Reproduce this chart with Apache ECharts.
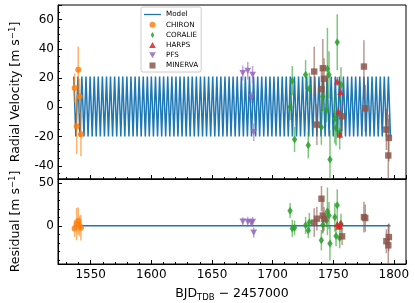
<!DOCTYPE html>
<html><head><meta charset="utf-8">
<script src="https://cdn.jsdelivr.net/npm/echarts@6/dist/echarts.min.js"></script>
<style>html,body{margin:0;padding:0;background:#fff}#c{width:415px;height:303px}</style>
</head><body><div id="c"></div>
<script>
// ---- Model (turning points of the Keplerian model curve) ----
const modelT = [1536.0,1537.7,1539.4,1541.1,1542.7,1544.4,1546.1,1547.8,1549.5,1551.2,
1552.9,1554.5,1556.2,1557.9,1559.6,1561.3,1563.0,1564.6,1566.3,1568.0,
1569.7,1571.4,1573.1,1574.8,1576.4,1578.1,1579.8,1581.5,1583.2,1584.9,
1586.6,1588.2,1589.9,1591.6,1593.3,1595.0,1596.7,1598.3,1600.0,1601.7,
1603.4,1605.1,1606.8,1608.5,1610.1,1611.8,1613.5,1615.2,1616.9,1618.6,
1620.3,1621.9,1623.6,1625.3,1627.0,1628.7,1630.4,1632.0,1633.7,1635.4,
1637.1,1638.8,1640.5,1642.2,1643.8,1645.5,1647.2,1648.9,1650.6,1652.3,
1654.0,1655.6,1657.3,1659.0,1660.7,1662.4,1664.1,1665.7,1667.4,1669.1,
1670.8,1672.5,1674.2,1675.9,1677.5,1679.2,1680.9,1682.6,1684.3,1686.0,
1687.7,1689.3,1691.0,1692.7,1694.4,1696.1,1697.8,1699.4,1701.1,1702.8,
1704.5,1706.2,1707.9,1709.6,1711.2,1712.9,1714.6,1716.3,1718.0,1719.7,
1721.4,1723.0,1724.7,1726.4,1728.1,1729.8,1731.5,1733.1,1734.8,1736.5,
1738.2,1739.9,1741.6,1743.3,1744.9,1746.6,1748.3,1750.0,1751.7,1753.4,
1755.1,1756.7,1758.4,1760.1,1761.8,1763.5,1765.2,1766.8,1768.5,1770.2,
1771.9,1773.6,1775.3,1777.0,1778.6,1780.3,1782.0,1783.7,1785.4,1787.1,
1788.8,1790.4,1792.1,1793.8,1795.5,1797.2];
const modelRV = [21,-20,21,-20,21,-20,21,-20,21,-20,21,-20,21,-20,21,-20,21,-20,21,-20,
21,-20,21,-20,21,-20,21,-20,21,-20,21,-20,21,-20,21,-20,21,-20,21,-20,
21,-20,21,-20,21,-20,21,-20,21,-20,21,-20,21,-20,21,-20,21,-20,21,-20,
21,-20,21,-20,21,-20,21,-20,21,-20,21,-20,21,-20,21,-20,21,-20,21,-20,
21,-20,21,-20,21,-20,21,-20,21,-20,21,-20,21,-20,21,-20,21,-20,21,-20,
21,-20,21,-20,21,-20,21,-20,21,-20,21,-20,21,-20,21,-20,21,-20,21,-20,
21,-20,21,-20,21,-20,21,-20,21,-20,21,-20,21,-20,21,-20,21,-20,21,-20,
21,-20,21,-20,21,-20,21,-20,21,-20,21,-20,21,-20,21,-20];
const residLineT = [1536.0, 1797.2];
const residLineV = [0, 0];

// ---- CHIRON ----
const chironT   = [1536.7, 1538.4, 1539.7, 1540.8, 1541.9];
const chironRV  = [13.2, -13.0, 25.7, 7.5, -18.4];
const chironErr = [10, 19, 16, 12, 15];
const chironRes = [-3.1, 2.0, 5.6, 0.0, -2.3];

// ---- CORALIE ----
const coralieT   = [1714.4, 1716.2, 1718.1, 1727.2, 1729.4, 1730.3, 1740.2, 1741.4, 1744.4, 1745.2, 1746.5, 1747.3, 1751.3, 1752.3, 1753.3, 1755.3, 1756.4];
const coralieRV  = [0.3, 18.2, -22.0, 22.3, -25.9, 12.7, -13.6, 7.5, -2.1, 26.4, 22.3, -35.7, -7.7, -14.2, 44.6, -16.8, 15.5];
const coralieErr = [9, 10, 8.5, 10, 9, 11, 12, 10, 8, 28, 16, 20, 17, 12, 19, 12, 12];
const coralieRes = [17.7, -3.1, -2.3, 0.5, -5.5, 4.0, -17.0, 1.0, 6.3, 17.0, 12.0, -21.0, 10.0, -12.0, 24.0, -14.5, 2.0];

// ---- HARPS ----
const harpsT   = [1753.3, 1754.3, 1755.4, 1756.0];
const harpsRV  = [17.7, -2.7, -18.6, 10.5];
const harpsErr = [3, 3, 3, 3];
const harpsRes = [2.0, -1.0, 0.0, 3.0];

// ---- PFS ----
const pfsT   = [1675.4, 1679.5, 1682.4, 1683.5, 1684.4];
const pfsRV  = [23.4, 25.0, 6.8, 22.3, -17.0];
const pfsErr = [5, 6, 4, 6, 6];
const pfsRes = [5.0, 4.5, 3.5, 4.5, -8.0];

// ---- MINERVA ----
const minervaT   = [1734.3, 1736.5, 1740.3, 1741.4, 1742.4, 1757.3, 1775.3, 1776.4, 1793.8, 1795.4, 1795.9];
const minervaRV  = [24.5, -11.8, 12.5, 26.8, 19.6, -6.1, 27.9, -0.7, -15.2, -32.9, -20.9];
const minervaErr = [17, 14, 15, 20, 14, 10, 18, 16, 14, 25, 16];
const minervaRes = [3.7, 8.3, 31.8, 12.0, 8.0, -12.5, 10.2, 9.0, -18.2, -23.0, -13.3];

// ---- axis ticks ----
const xTicks = [1550, 1600, 1650, 1700, 1750, 1800];
const rvTicks = [-40, -20, 0, 20, 40, 60];
const resTicks = [0, 50];
</script>
<script>
const FONT = 'DejaVu Sans';
const C = {model:'#1f77b4', chiron:'#ff7f0e', coralie:'#2ca02c', harps:'#d62728', pfs:'#9467bd', minerva:'#8c564b'};
const DIAMOND = 'path://M3,0 L6,5 L3,10 L0,5 Z';
const TRI_DOWN = 'path://M0,0 L10,0 L5,9 Z';
const TRI_UP = 'path://M5,0 L10,9 L0,9 Z';
const SQUARE = 'path://M0,0 L10,0 L10,10 L0,10 Z';
const instruments = [
  {name:'CHIRON', t:chironT, rv:chironRV, err:chironErr, res:chironRes, color:C.chiron, symbol:'circle', size:6, icon:'circle'},
  {name:'CORALIE', t:coralieT, rv:coralieRV, err:coralieErr, res:coralieRes, color:C.coralie, symbol:DIAMOND, size:[5.4,8], icon:DIAMOND},
  {name:'HARPS', t:harpsT, rv:harpsRV, err:harpsErr, res:harpsRes, color:C.harps, symbol:TRI_UP, size:[6.8,6.2], icon:TRI_UP},
  {name:'PFS', t:pfsT, rv:pfsRV, err:pfsErr, res:pfsRes, color:C.pfs, symbol:TRI_DOWN, size:[6.8,6.2], icon:TRI_DOWN},
  {name:'MINERVA', t:minervaT, rv:minervaRV, err:minervaErr, res:minervaRes, color:C.minerva, symbol:SQUARE, size:6.4, icon:SQUARE}
];

function errSeries(inst, vals, gi) {
  return {
    type:'custom', name: inst.name + '_err' + gi, xAxisIndex: gi, yAxisIndex: gi, clip: true, silent: true, z: 2,
    data: inst.t.map((x,i)=>[x, vals[i]-inst.err[i], vals[i]+inst.err[i]]),
    encode: {x:0, y:[1,2]},
    renderItem: (p, api) => {
      const a = api.coord([api.value(0), api.value(1)]);
      const b = api.coord([api.value(0), api.value(2)]);
      return {type:'line', shape:{x1:a[0], y1:a[1], x2:b[0], y2:b[1]}, style:{stroke: inst.color, lineWidth:1.5, opacity:0.6}};
    }
  };
}
function ptSeries(inst, vals, gi) {
  return {
    type:'scatter', name: inst.name, xAxisIndex: gi, yAxisIndex: gi, z: 3, silent: true,
    symbol: inst.symbol, symbolSize: inst.size,
    itemStyle: {color: inst.color, opacity: 0.85},
    data: inst.t.map((x,i)=>[x, vals[i]])
  };
}

const series = [
  {type:'line', name:'Model', xAxisIndex:0, yAxisIndex:0, symbol:'none', silent:true, z:1,
   lineStyle:{color:C.model, width:1.5}, itemStyle:{color:C.model},
   data: modelT.map((x,i)=>[x, modelRV[i]])},
  {type:'line', name:'ResidZero', xAxisIndex:1, yAxisIndex:1, symbol:'none', silent:true, z:1,
   lineStyle:{color:C.model, width:1.4}, itemStyle:{color:C.model},
   data: residLineT.map((x,i)=>[x, residLineV[i]])}
];
instruments.forEach(inst => {
  series.push(ptSeries(inst, inst.rv, 0));
  series.push(errSeries(inst, inst.rv, 0));
  series.push(ptSeries(inst, inst.res, 1));
  series.push(errSeries(inst, inst.res, 1));
});

const axisLineDef = {show:true, onZero:false, lineStyle:{color:'#000', width:1}};
const axisTickDef = {show:true, inside:true, length:4, lineStyle:{color:'#000', width:1}};
function xAxisDef(gi, showLabels) {
  const ax = {
    type:'value', gridIndex: gi, min:1523, max:1810, splitNumber:5,
    axisLine: axisLineDef, axisTick: axisTickDef, splitLine:{show:false},
    axisLabel:{show: showLabels, fontFamily:FONT, fontSize:12, color:'#000', margin:5,
      showMinLabel:false, showMaxLabel:false,
      formatter: v => xTicks.indexOf(v) >= 0 ? String(v) : ''},
    minorTick:{show:true, splitNumber:5, length:2, lineStyle:{color:'#000', width:1}}
  };
  if (showLabels) {
    ax.name = '{a|BJD}{s|TDB}{a| − 2457000}';
    ax.nameLocation = 'middle';
    ax.nameGap = 22;
    ax.nameTextStyle = {rich:{a:{fontFamily:FONT, fontSize:12.5, color:'#000', lineHeight:16},
      s:{fontFamily:FONT, fontSize:8.5, color:'#000', verticalAlign:'bottom', lineHeight:16}}};
  }
  return ax;
}
function yAxisDef(gi, min, max, split, ticks, title, minorSplit) {
  return {
    type:'value', gridIndex:gi, min:min, max:max, splitNumber:split,
    axisLine: axisLineDef, axisTick: axisTickDef, splitLine:{show:false},
    axisLabel:{fontFamily:FONT, fontSize:12, color:'#000', margin:4, showMinLabel:false, showMaxLabel:false,
      formatter: v => ticks.indexOf(v) >= 0 ? String(v) : ''},
    minorTick:{show:true, splitNumber:minorSplit, length:2, lineStyle:{color:'#000', width:1}},
    name:'{a|' + title + ' [m s}{u|−1}{a|]}', nameLocation:'middle', nameGap:34, nameRotate:90,
    nameTextStyle:{rich:{a:{fontFamily:FONT, fontSize:12.5, color:'#000', lineHeight:16},
      u:{fontFamily:FONT, fontSize:8.5, color:'#000', verticalAlign:'top', lineHeight:16}}}
  };
}

const legendData = [{name:'Model', icon:'path://M0,0 M0,5.5 M0,2.1 L17,2.1 L17,3.4 L0,3.4 Z'}]
  .concat(instruments.map(inst => ({name: inst.name, icon: inst.icon})));

const option = {
  animation:false,
  backgroundColor:'#fff',
  grid:[
    {left:53, right:9, top:5, height:174, show:true, borderColor:'#000', borderWidth:1},
    {left:53, right:9, top:179, height:88, show:true, borderColor:'#000', borderWidth:1}
  ],
  xAxis:[ xAxisDef(0, false), xAxisDef(1, true) ],
  yAxis:[
    yAxisDef(0, -49, 70, 5, rvTicks, 'Radial Velocity', 4),
    yAxisDef(1, -45, 55, 2, resTicks, 'Residual', 5)
  ],
  legend:{
    show:true, orient:'vertical', left:141, top:7, padding:[3,3,2,3],
    backgroundColor:'rgba(255,255,255,0.85)', borderColor:'#ccc', borderWidth:1, borderRadius:2,
    itemWidth:17, itemHeight:6, itemGap:1.2, selectedMode:false,
    textStyle:{fontFamily:FONT, fontSize:7.2, color:'#000', lineHeight:9},
    data: legendData
  },
  series: series
};
const chart = echarts.init(document.getElementById('c'), null, {renderer:'canvas'});
chart.setOption(option);
</script>
</body></html>
